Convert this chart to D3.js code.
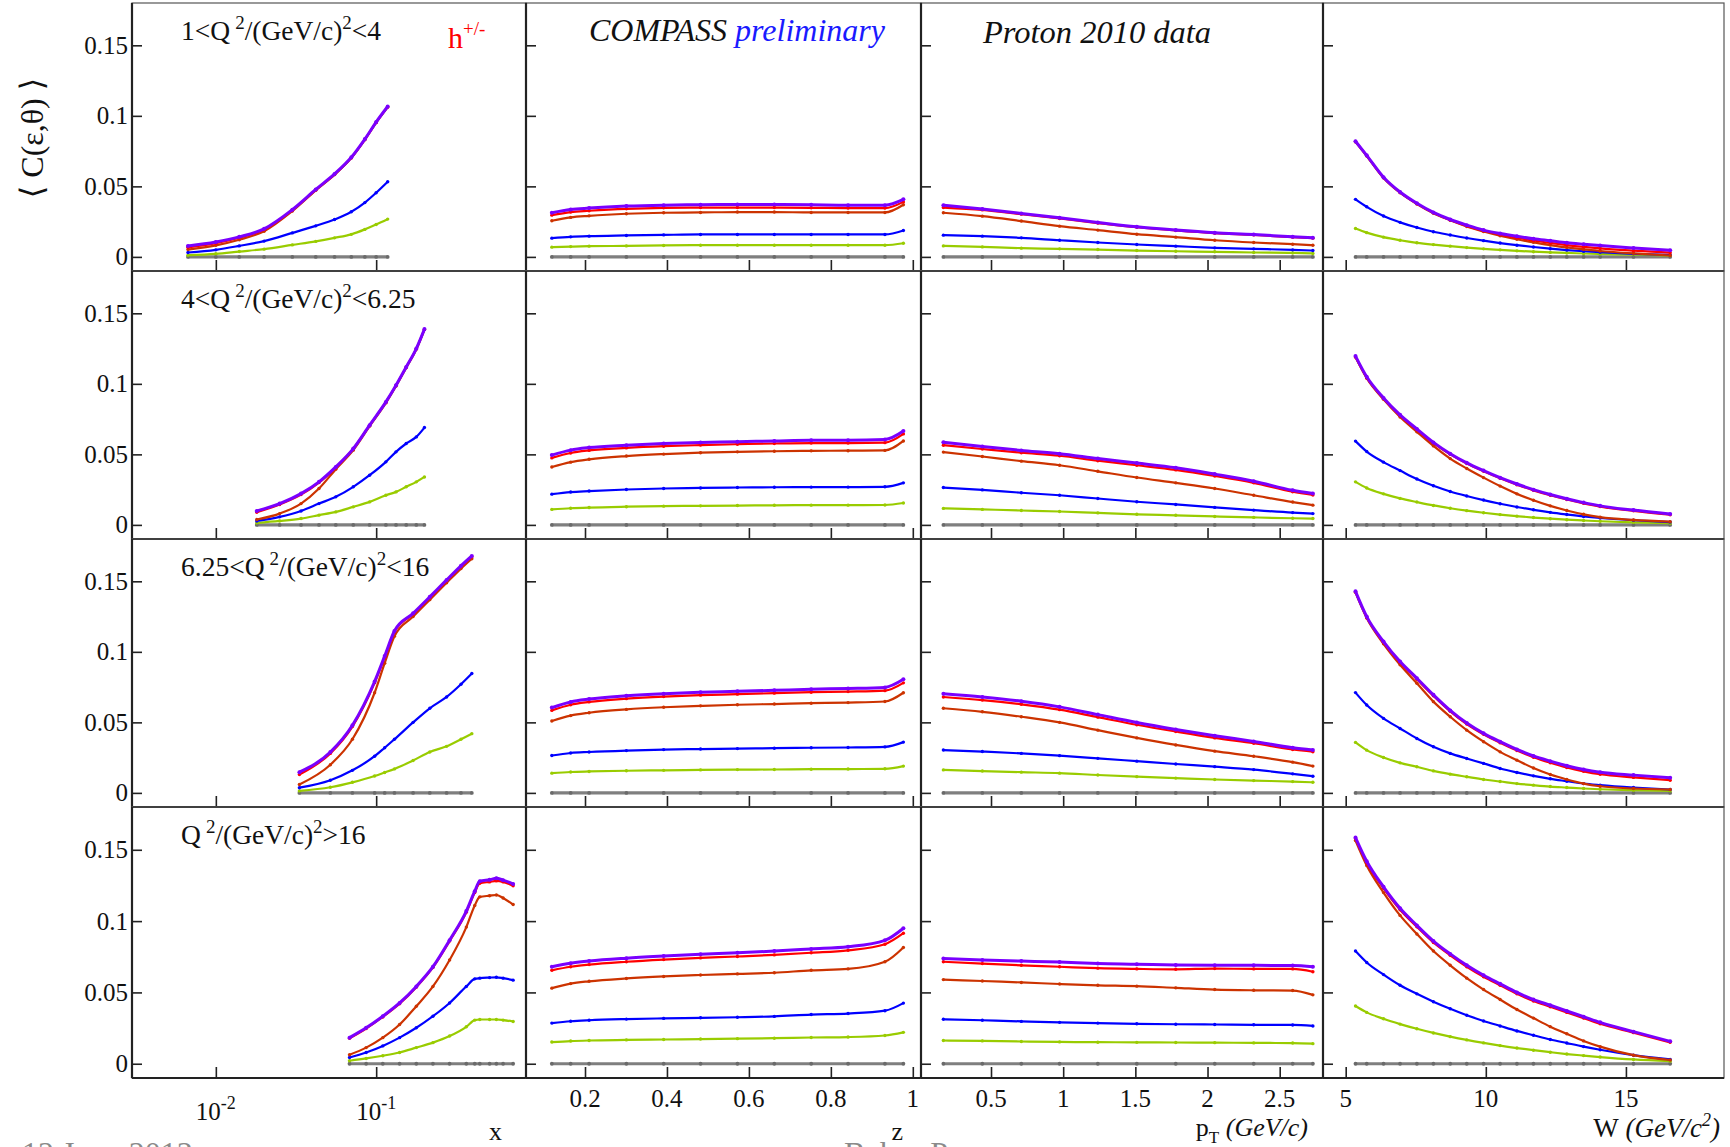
<!DOCTYPE html>
<html><head><meta charset="utf-8">
<script src="https://cdn.jsdelivr.net/npm/d3@7"></script>
<style>
body{margin:0;background:#fff}
svg{display:block}
text{font-family:"Liberation Serif","Times New Roman","DejaVu Serif",serif;fill:#111}
</style>
</head><body><svg id="c" width="1730" height="1147"></svg>
<script>
// ---------------- DATA ----------------
const rowLabels = ["1<Q|2|/(GeV/c)|2|<4", "4<Q|2|/(GeV/c)|2|<6.25", "6.25<Q|2|/(GeV/c)|2|<16", "Q|2|/(GeV/c)|2|>16"];
const seriesNames = ["total", "term 1", "term 2", "term 3", "term 4"];
const yTickValues = [0, 0.05, 0.1, 0.15];
const yTickLabels = ["0", "0.05", "0.1", "0.15"];
const yDomain = [-0.01, 0.18];
const xDomains = [[0.003, 0.86], [0.056, 1.02], [0.015, 2.8], [4.19, 18.5]];
const xMajorTicks = [[0.01, 0.1], [0.2, 0.4, 0.6, 0.8, 1], [0.5, 1, 1.5, 2, 2.5], [5, 10, 15]];
const xTickLabelsLog = [["10", "-2"], ["10", "-1"]];
const xTickLabelsZ = ["0.2", "0.4", "0.6", "0.8", "1"];
const xTickLabelsPt = ["0.5", "1", "1.5", "2", "2.5"];
const xTickLabelsW = ["5", "10", "15"];

// x (Bjorken) bins per Q2 row
const xBinsR1 = [0.0067, 0.01, 0.014, 0.02, 0.03, 0.042, 0.055, 0.07, 0.085, 0.1, 0.118];
const xBinsR2 = [0.018, 0.025, 0.034, 0.044, 0.056, 0.072, 0.091, 0.115, 0.133, 0.154, 0.178, 0.2];
const xBinsR3 = [0.0332, 0.0518, 0.0711, 0.0978, 0.113, 0.13, 0.17, 0.216, 0.275, 0.338, 0.395];
const xBinsR4 = [0.0682, 0.0866, 0.11, 0.14, 0.178, 0.226, 0.287, 0.365, 0.412, 0.443, 0.51, 0.562, 0.619, 0.715];
const zBins = [0.119, 0.165, 0.21, 0.301, 0.392, 0.482, 0.572, 0.662, 0.752, 0.842, 0.932, 0.977];
const ptBins = [0.17, 0.44, 0.71, 0.975, 1.24, 1.51, 1.78, 2.05, 2.32, 2.59, 2.73];
const wBins = [5.35, 5.75, 6.35, 6.94, 7.54, 8.13, 8.73, 9.32, 9.92, 10.51, 11.11, 11.7, 12.3, 12.89, 13.49, 14.08, 15.27, 16.58];

// values: [purple(total), red, dark orange, blue, green]
const xPanelR1 = [
  [0.0078, 0.0106, 0.0142, 0.0199, 0.0335, 0.0478, 0.0588, 0.0706, 0.0835, 0.0956, 0.1066],
  [0.0068, 0.0098, 0.0136, 0.0194, 0.0331, 0.0475, 0.0585, 0.0703, 0.0832, 0.0953, 0.1063],
  [0.0052, 0.0082, 0.0122, 0.0182, 0.0325, 0.0472, 0.0583, 0.0702, 0.0831, 0.0952, 0.1062],
  [0.0031, 0.005, 0.0078, 0.0112, 0.017, 0.022, 0.0265, 0.032, 0.0385, 0.0455, 0.0533],
  [0.0012, 0.0022, 0.0038, 0.0055, 0.0085, 0.011, 0.0135, 0.016, 0.0195, 0.023, 0.0268]];
const xPanelR2 = [
  [0.0099, 0.0151, 0.0222, 0.0305, 0.0411, 0.0541, 0.0707, 0.0872, 0.099, 0.112, 0.125, 0.1388],
  [0.009, 0.0145, 0.0215, 0.03, 0.0408, 0.054, 0.0705, 0.087, 0.0988, 0.1118, 0.1248, 0.1386],
  [0.0038, 0.008, 0.0151, 0.0258, 0.0395, 0.053, 0.07, 0.0865, 0.0985, 0.1115, 0.1245, 0.1385],
  [0.0028, 0.0057, 0.0099, 0.0151, 0.0199, 0.027, 0.0352, 0.0447, 0.0518, 0.0577, 0.0624, 0.069],
  [0.0014, 0.0028, 0.0045, 0.0069, 0.0092, 0.0128, 0.0163, 0.021, 0.0234, 0.027, 0.0305, 0.034]];
const xPanelR3 = [
  [0.0147, 0.029, 0.048, 0.079, 0.097, 0.1148, 0.1273, 0.139, 0.151, 0.161, 0.168],
  [0.013, 0.028, 0.047, 0.078, 0.0962, 0.1142, 0.1268, 0.1385, 0.1505, 0.1605, 0.1675],
  [0.006, 0.02, 0.038, 0.071, 0.092, 0.111, 0.125, 0.137, 0.149, 0.159, 0.166],
  [0.0037, 0.009, 0.016, 0.026, 0.032, 0.038, 0.05, 0.06, 0.068, 0.077, 0.0846],
  [0.0014, 0.004, 0.0075, 0.012, 0.0145, 0.017, 0.023, 0.029, 0.033, 0.038, 0.042]];
const xPanelR4 = [
  [0.0183, 0.0252, 0.0333, 0.0426, 0.0542, 0.068, 0.0866, 0.107, 0.121, 0.128, 0.129, 0.13, 0.1287, 0.126],
  [0.0178, 0.0247, 0.0328, 0.0421, 0.0537, 0.0675, 0.086, 0.1062, 0.12, 0.1265, 0.1275, 0.1282, 0.1275, 0.1248],
  [0.0063, 0.0113, 0.0183, 0.0275, 0.0403, 0.0542, 0.0727, 0.0958, 0.111, 0.117, 0.1178, 0.1183, 0.1162, 0.1116],
  [0.0044, 0.0079, 0.0125, 0.0183, 0.0252, 0.0333, 0.0426, 0.0542, 0.0595, 0.06, 0.0604, 0.0606, 0.06, 0.0586],
  [0.0021, 0.0037, 0.0056, 0.0079, 0.0113, 0.0148, 0.0194, 0.0259, 0.0306, 0.031, 0.031, 0.031, 0.0306, 0.0296]];

const zPanelR1 = [
  [0.0313, 0.0336, 0.0346, 0.036, 0.0367, 0.037, 0.0372, 0.0372, 0.037, 0.0367, 0.0367, 0.0408],
  [0.0296, 0.0318, 0.0327, 0.0341, 0.0348, 0.035, 0.035, 0.035, 0.0348, 0.0346, 0.0346, 0.039],
  [0.0256, 0.028, 0.0291, 0.0306, 0.0313, 0.0315, 0.0318, 0.0318, 0.0315, 0.0315, 0.0315, 0.037],
  [0.0133, 0.0142, 0.0147, 0.0152, 0.0156, 0.0159, 0.0159, 0.0159, 0.0159, 0.0159, 0.0159, 0.0187],
  [0.0069, 0.0073, 0.0076, 0.0078, 0.0081, 0.0083, 0.0083, 0.0083, 0.0083, 0.0083, 0.0083, 0.0097]];
const zPanelR2 = [
  [0.0495, 0.053, 0.0548, 0.0565, 0.0577, 0.0585, 0.059, 0.0595, 0.06, 0.06, 0.0605, 0.0665],
  [0.0475, 0.051, 0.0528, 0.0546, 0.0558, 0.0566, 0.0572, 0.0577, 0.058, 0.058, 0.0583, 0.0645],
  [0.041, 0.0445, 0.0465, 0.0488, 0.0502, 0.0512, 0.0518, 0.0522, 0.0525, 0.0526, 0.0528, 0.0595],
  [0.0218, 0.0233, 0.024, 0.0251, 0.0258, 0.0262, 0.0265, 0.0267, 0.0268, 0.0268, 0.027, 0.0298],
  [0.011, 0.0118, 0.0123, 0.0129, 0.0133, 0.0135, 0.0137, 0.0139, 0.014, 0.014, 0.0141, 0.0155]];
const zPanelR3 = [
  [0.0605, 0.0645, 0.0665, 0.0688, 0.0703, 0.0713, 0.072, 0.0727, 0.0735, 0.074, 0.0748, 0.0805],
  [0.0585, 0.0625, 0.0645, 0.0668, 0.0683, 0.0693, 0.07, 0.0707, 0.0714, 0.0718, 0.0725, 0.078],
  [0.051, 0.0548, 0.0568, 0.0592, 0.0607, 0.0617, 0.0625, 0.063, 0.0636, 0.064, 0.0648, 0.071],
  [0.0265, 0.0283, 0.029, 0.03, 0.0307, 0.0311, 0.0314, 0.0317, 0.032, 0.0322, 0.0326, 0.036],
  [0.014, 0.0148, 0.0152, 0.0157, 0.016, 0.0163, 0.0165, 0.0166, 0.0168, 0.0169, 0.0171, 0.019]];
const zPanelR4 = [
  [0.068, 0.0705, 0.072, 0.074, 0.0755, 0.0768, 0.0778, 0.079, 0.0805, 0.082, 0.0865, 0.095],
  [0.0655, 0.068, 0.0695, 0.0715, 0.073, 0.0742, 0.0752, 0.0763, 0.0778, 0.0795, 0.0838, 0.0915],
  [0.053, 0.0562, 0.0578, 0.0598, 0.0612, 0.0622, 0.063, 0.0638, 0.0655, 0.0665, 0.0715, 0.0815],
  [0.0285, 0.0298, 0.0305, 0.0313, 0.0318, 0.0322, 0.0326, 0.0332, 0.0345, 0.0352, 0.0372, 0.0425],
  [0.0152, 0.0159, 0.0163, 0.0167, 0.017, 0.0173, 0.0176, 0.0179, 0.0184, 0.0187, 0.0198, 0.022]];

const ptPanelR1 = [
  [0.0367, 0.0339, 0.0308, 0.0277, 0.0244, 0.0213, 0.019, 0.0171, 0.0159, 0.0142, 0.0135],
  [0.035, 0.0333, 0.0303, 0.0272, 0.024, 0.021, 0.0187, 0.0168, 0.0156, 0.014, 0.0133],
  [0.0313, 0.0289, 0.0254, 0.0218, 0.019, 0.0161, 0.014, 0.0118, 0.0102, 0.009, 0.0083],
  [0.0154, 0.0147, 0.0135, 0.0118, 0.0102, 0.0088, 0.0076, 0.0064, 0.0057, 0.005, 0.0045],
  [0.0078, 0.0071, 0.0062, 0.0057, 0.0052, 0.0045, 0.004, 0.0036, 0.0031, 0.0028, 0.0024]];
const ptPanelR2 = [
  [0.0586, 0.0555, 0.0528, 0.0505, 0.047, 0.0438, 0.0405, 0.036, 0.031, 0.0245, 0.0222],
  [0.0565, 0.0538, 0.0512, 0.049, 0.0455, 0.0423, 0.039, 0.0347, 0.0298, 0.0235, 0.0212],
  [0.0516, 0.0485, 0.0452, 0.0423, 0.038, 0.0336, 0.0298, 0.0258, 0.021, 0.0162, 0.014],
  [0.0265, 0.0248, 0.0228, 0.021, 0.0187, 0.0164, 0.0145, 0.0124, 0.0105, 0.0087, 0.008],
  [0.0117, 0.011, 0.0102, 0.0095, 0.0085, 0.0075, 0.0068, 0.006, 0.0053, 0.0047, 0.0045]];
const ptPanelR3 = [
  [0.0703, 0.068, 0.065, 0.061, 0.0555, 0.0499, 0.045, 0.0405, 0.0365, 0.032, 0.0304],
  [0.068, 0.0658, 0.0628, 0.059, 0.0537, 0.0483, 0.0435, 0.039, 0.0352, 0.0308, 0.0292],
  [0.06, 0.0575, 0.054, 0.05, 0.0445, 0.039, 0.034, 0.0296, 0.026, 0.0218, 0.019],
  [0.0304, 0.0293, 0.028, 0.0264, 0.0245, 0.0225, 0.0205, 0.0186, 0.0165, 0.0135, 0.0118],
  [0.0163, 0.0155, 0.0147, 0.014, 0.0127, 0.0115, 0.0105, 0.0095, 0.0087, 0.008, 0.0075]];
const ptPanelR4 = [
  [0.0737, 0.0728, 0.072, 0.0713, 0.0703, 0.0698, 0.0692, 0.069, 0.069, 0.0688, 0.068],
  [0.0715, 0.0702, 0.069, 0.068, 0.067, 0.0665, 0.0662, 0.0667, 0.0665, 0.0665, 0.0645],
  [0.059, 0.058, 0.057, 0.0559, 0.055, 0.0544, 0.0532, 0.052, 0.0515, 0.0513, 0.0483],
  [0.0312, 0.0305, 0.0297, 0.029, 0.0285, 0.028, 0.0277, 0.0275, 0.0273, 0.0272, 0.0265],
  [0.0163, 0.016, 0.0156, 0.0153, 0.0151, 0.015, 0.0149, 0.0148, 0.0146, 0.0145, 0.0141]];

const wPanelR1 = [
  [0.082, 0.072, 0.0565, 0.046, 0.038, 0.0315, 0.0265, 0.0225, 0.019, 0.0166, 0.0146, 0.0129, 0.0115, 0.0101, 0.009, 0.008, 0.0063, 0.0047],
  [0.0818, 0.0718, 0.0562, 0.0458, 0.0378, 0.0313, 0.0262, 0.022, 0.0185, 0.0158, 0.0136, 0.0116, 0.0099, 0.0084, 0.0071, 0.006, 0.0044, 0.003],
  [0.0815, 0.0715, 0.056, 0.0455, 0.0375, 0.031, 0.026, 0.0215, 0.018, 0.015, 0.0125, 0.0103, 0.0084, 0.0067, 0.0053, 0.0042, 0.0025, 0.001],
  [0.0408, 0.0355, 0.029, 0.0245, 0.0208, 0.0178, 0.0155, 0.0134, 0.0115, 0.0098, 0.0083, 0.007, 0.0058, 0.0048, 0.004, 0.0033, 0.0022, 0.0014],
  [0.0201, 0.0172, 0.014, 0.0118, 0.01, 0.0087, 0.0076, 0.0066, 0.0057, 0.005, 0.0043, 0.0037, 0.0032, 0.0028, 0.0024, 0.0021, 0.0016, 0.001]];
const wPanelR2 = [
  [0.1197, 0.105, 0.09, 0.078, 0.068, 0.0585, 0.0505, 0.044, 0.0385, 0.0335, 0.029, 0.025, 0.0215, 0.0185, 0.0158, 0.0135, 0.0105, 0.0077],
  [0.119, 0.1045, 0.0895, 0.0775, 0.0675, 0.058, 0.05, 0.0435, 0.038, 0.033, 0.0285, 0.0245, 0.021, 0.018, 0.0153, 0.013, 0.01, 0.0072],
  [0.119, 0.104, 0.089, 0.0765, 0.066, 0.056, 0.047, 0.04, 0.0335, 0.0275, 0.022, 0.0175, 0.0135, 0.0102, 0.0075, 0.0055, 0.0035, 0.0023],
  [0.0594, 0.052, 0.0445, 0.0385, 0.0325, 0.0277, 0.0237, 0.0205, 0.0176, 0.015, 0.0127, 0.0107, 0.0089, 0.0074, 0.006, 0.0049, 0.0033, 0.002],
  [0.0305, 0.0262, 0.022, 0.0188, 0.0162, 0.0138, 0.0118, 0.0101, 0.0086, 0.0073, 0.0062, 0.0052, 0.0044, 0.0037, 0.0031, 0.0026, 0.0018, 0.0012]];
const wPanelR3 = [
  [0.1429, 0.125, 0.1073, 0.0931, 0.0813, 0.0695, 0.0585, 0.0495, 0.0422, 0.0363, 0.0308, 0.0262, 0.0225, 0.0192, 0.0166, 0.0147, 0.0126, 0.0107],
  [0.1425, 0.1245, 0.1068, 0.0925, 0.0805, 0.0688, 0.0578, 0.0488, 0.0415, 0.0355, 0.03, 0.0253, 0.0214, 0.018, 0.0153, 0.0132, 0.011, 0.009],
  [0.1422, 0.124, 0.1057, 0.0908, 0.0777, 0.0647, 0.054, 0.0445, 0.0363, 0.0291, 0.0232, 0.0176, 0.013, 0.0095, 0.0066, 0.0047, 0.0031, 0.0024],
  [0.0711, 0.0623, 0.0528, 0.0457, 0.0386, 0.0327, 0.028, 0.0244, 0.0209, 0.0173, 0.0145, 0.0121, 0.01, 0.0083, 0.0066, 0.0055, 0.0038, 0.0024],
  [0.0358, 0.0303, 0.0251, 0.0213, 0.0185, 0.0156, 0.0133, 0.0114, 0.0095, 0.0081, 0.0066, 0.0055, 0.0045, 0.0038, 0.0031, 0.0026, 0.0019, 0.0014]];
const wPanelR4 = [
  [0.1586, 0.142, 0.124, 0.109, 0.097, 0.086, 0.077, 0.069, 0.062, 0.056, 0.05, 0.045, 0.041, 0.037, 0.033, 0.029, 0.0225, 0.0157],
  [0.158, 0.141, 0.123, 0.108, 0.096, 0.085, 0.076, 0.068, 0.061, 0.055, 0.049, 0.044, 0.04, 0.036, 0.032, 0.028, 0.0218, 0.015],
  [0.1565, 0.139, 0.12, 0.104, 0.091, 0.079, 0.069, 0.06, 0.052, 0.045, 0.038, 0.032, 0.026, 0.021, 0.016, 0.012, 0.006, 0.0026],
  [0.079, 0.071, 0.0625, 0.055, 0.049, 0.0435, 0.0385, 0.034, 0.03, 0.0265, 0.023, 0.02, 0.017, 0.0145, 0.012, 0.0098, 0.006, 0.003],
  [0.0405, 0.036, 0.0315, 0.0278, 0.0245, 0.0216, 0.019, 0.0167, 0.0146, 0.0127, 0.011, 0.0095, 0.0081, 0.0068, 0.0057, 0.0047, 0.003, 0.0018]];

// ---------------- LAYOUT / STYLE ----------------
const colEdges = [132, 526, 921, 1323, 1724];
const rowEdges = [3, 271, 539, 807, 1078];
const seriesColors = ["#7a00ff", "#ff0000", "#cc3300", "#0000ff", "#99cc00"];
const seriesWidths = [3, 2.2, 2.2, 2.2, 2.2];
const zeroColor = "#7f7f7f";

const panelBins = [
  [xBinsR1, zBins, ptBins, wBins],
  [xBinsR2, zBins, ptBins, wBins],
  [xBinsR3, zBins, ptBins, wBins],
  [xBinsR4, zBins, ptBins, wBins]];
const panelVals = [
  [xPanelR1, zPanelR1, ptPanelR1, wPanelR1],
  [xPanelR2, zPanelR2, ptPanelR2, wPanelR2],
  [xPanelR3, zPanelR3, ptPanelR3, wPanelR3],
  [xPanelR4, zPanelR4, ptPanelR4, wPanelR4]];

const svg = d3.select("#c");

function makeX(c) {
  const r = [colEdges[c], colEdges[c + 1]];
  return c === 0 ? d3.scaleLog().domain(xDomains[0]).range(r) : d3.scaleLinear().domain(xDomains[c]).range(r);
}
function minorTicks(c) {
  const [a, b] = xDomains[c];
  let t = [];
  if (c === 0) {
    [0.001, 0.01, 0.1].forEach(dec => { for (let k = 1; k <= 9; k++) t.push(dec * k); });
  } else if (c === 1) t = d3.range(0, 1.1, 0.05);
  else if (c === 2) t = d3.range(0, 2.9, 0.1);
  else t = d3.range(4, 19, 1);
  return t.filter(v => v > a * 1.0001 && v < b * 0.9999);
}
const yMinor = d3.range(-0.01, 0.1801, 0.01).filter(v => v > -0.0099 && v < 0.1799);

for (let r = 0; r < 4; r++) {
  const y = d3.scaleLinear().domain(yDomain).range([rowEdges[r + 1], rowEdges[r]]);
  for (let c = 0; c < 4; c++) {
    const x = makeX(c);
    const g = svg.append("g");
    const x0 = colEdges[c], x1 = colEdges[c + 1], y0 = rowEdges[r], y1 = rowEdges[r + 1];
    g.append("rect").attr("x", x0).attr("y", y0).attr("width", x1 - x0).attr("height", y1 - y0)
      .attr("fill", "none").attr("stroke", "#555").attr("stroke-width", 1.2);
    const ax = g.append("g").attr("transform", `translate(0,${y1})`);
    ax.call(d3.axisBottom(x).tickValues(minorTicks(c)).tickSize(-6).tickFormat(""));
    ax.call(d3.axisBottom(x).tickValues(xMajorTicks[c]).tickSize(-11).tickFormat(""));
    ax.selectAll(".domain").remove();
    ax.selectAll("line").attr("stroke", "#222").attr("stroke-width", 1.6);
    const ay = g.append("g").attr("transform", `translate(${x0},0)`);
    ay.call(d3.axisLeft(y).tickValues(yMinor).tickSize(-5.5).tickFormat(""));
    ay.call(d3.axisLeft(y).tickValues(yTickValues).tickSize(-10).tickFormat(""));
    ay.selectAll(".domain").remove();
    ay.selectAll("line").attr("stroke", "#222").attr("stroke-width", 1.6);
    g.append("line").attr("x1", x0).attr("x2", x1).attr("y1", y1).attr("y2", y1).attr("stroke", "#222").attr("stroke-width", 2.2);
    g.append("line").attr("x1", x0).attr("x2", x0).attr("y1", y0).attr("y2", y1).attr("stroke", "#222").attr("stroke-width", 2.2);

    const bins = panelBins[r][c];
    const vals = panelVals[r][c];
    const line = d3.line().x(d => x(d[0])).y(d => y(d[1])).curve(d3.curveMonotoneX);
    const zeroPts = bins.map(b => [b, 0]);
    g.append("path").attr("d", line(zeroPts)).attr("fill", "none").attr("stroke", zeroColor).attr("stroke-width", 3.2);
    g.selectAll(null).data(zeroPts).enter().append("circle")
      .attr("cx", d => x(d[0])).attr("cy", d => y(d[1])).attr("r", 1.9).attr("fill", "#6a6a6a");
    for (let s = 4; s >= 0; s--) {
      const pts = bins.map((b, i) => [b, vals[s][i]]);
      g.append("path").attr("d", line(pts)).attr("fill", "none")
        .attr("stroke", seriesColors[s]).attr("stroke-width", seriesWidths[s]).attr("stroke-linejoin", "round");
      g.selectAll(null).data(pts).enter().append("circle")
        .attr("cx", d => x(d[0])).attr("cy", d => y(d[1])).attr("r", s === 0 ? 2 : 1.7).attr("fill", seriesColors[s]);
    }
  }
  svg.append("g").selectAll("text").data(yTickValues).enter().append("text")
    .attr("x", 128).attr("y", d => y(d)).attr("dy", "0.34em").attr("text-anchor", "end")
    .attr("font-size", 25).text((d, i) => yTickLabels[i]);
  const parts = rowLabels[r].split("|");
  const t = svg.append("text").attr("x", 181).attr("y", rowEdges[r] + 37).attr("font-size", 27.5);
  parts.forEach((p, i) => {
    if (i % 2 === 1) t.append("tspan").attr("dy", -11).attr("dx", i === 1 ? 5 : 0).attr("font-size", 19).text(p);
    else t.append("tspan").attr("dy", i === 0 ? 0 : 11).text(p);
  });
}

// bottom x tick labels
const xb = [0, 1, 2, 3].map(makeX);
const labBase = 1107;
xMajorTicks[0].forEach((v, i) => {
  const t = svg.append("text").attr("x", xb[0](v)).attr("y", 1120).attr("text-anchor", "middle").attr("font-size", 25);
  t.append("tspan").text(xTickLabelsLog[i][0]);
  t.append("tspan").attr("dy", -11).attr("font-size", 18).text(xTickLabelsLog[i][1]);
});
[[1, xTickLabelsZ], [2, xTickLabelsPt], [3, xTickLabelsW]].forEach(([c, labs]) => {
  svg.append("g").selectAll("text").data(xMajorTicks[c]).enter().append("text")
    .attr("x", d => xb[c](d)).attr("y", labBase).attr("text-anchor", "middle").attr("font-size", 25)
    .text((d, i) => labs[i]);
});

// axis titles
svg.append("text").attr("x", 502).attr("y", 1140).attr("text-anchor", "end").attr("font-size", 26).text("x");
svg.append("text").attr("x", 903).attr("y", 1140).attr("text-anchor", "end").attr("font-size", 26).text("z");
{
  const t = svg.append("text").attr("x", 1308).attr("y", 1136).attr("text-anchor", "end").attr("font-size", 26);
  t.append("tspan").text("p");
  t.append("tspan").attr("dy", 7).attr("font-size", 17).text("T");
  t.append("tspan").attr("dy", -7).attr("font-style", "italic").text(" (GeV/c)");
}
{
  const t = svg.append("text").attr("x", 1720).attr("y", 1137).attr("text-anchor", "end").attr("font-size", 27);
  t.append("tspan").text("W");
  t.append("tspan").attr("font-style", "italic").text(" (GeV/c");
  t.append("tspan").attr("dy", -11).attr("font-size", 18).attr("font-style", "italic").text("2");
  t.append("tspan").attr("dy", 11).attr("font-style", "italic").text(")");
}
// y title
svg.append("text").attr("transform", "translate(43,138) rotate(-90)").attr("text-anchor", "middle")
  .attr("font-size", 32).text("\u27E8 C(\u03B5,\u03B8) \u27E9");

// annotations
{
  const t = svg.append("text").attr("x", 448).attr("y", 48).attr("font-size", 30).style("fill", "#ff0000");
  t.append("tspan").text("h");
  t.append("tspan").attr("dy", -13).attr("font-size", 19).text("+/-");
}
{
  const t = svg.append("text").attr("x", 589).attr("y", 41).attr("font-size", 32).attr("font-style", "italic");
  t.append("tspan").text("COMPASS ");
  t.append("tspan").style("fill", "#1a1aff").text("preliminary");
}
svg.append("text").attr("x", 983).attr("y", 43).attr("font-size", 32.5).attr("font-style", "italic").text("Proton 2010 data");

// footer texts (cut by the bottom edge, as in the source slide)
svg.append("text").attr("x", 22).attr("y", 1164).attr("font-size", 32).style("fill", "#8a8a8a").text("12 June 2013");
svg.append("text").attr("x", 844).attr("y", 1164).attr("font-size", 32).style("fill", "#8a8a8a").text("Bakur Parsamyan");
</script></body></html>
